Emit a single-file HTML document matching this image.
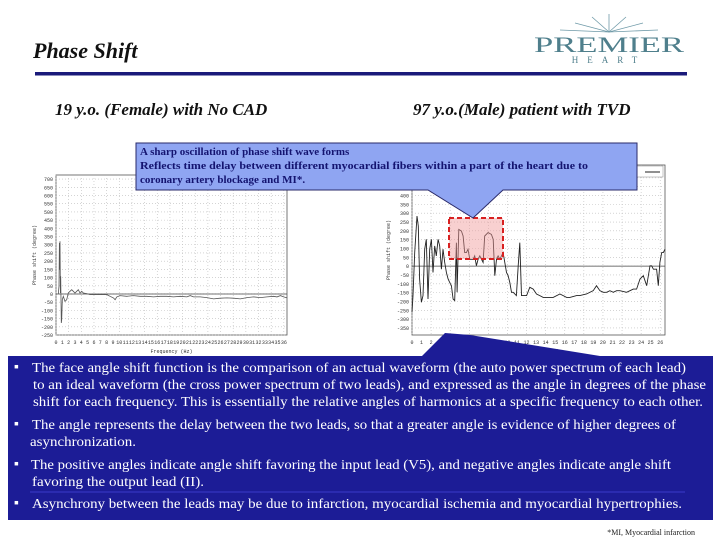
<!DOCTYPE html>
<html><head><meta charset="utf-8"><style>
html,body{margin:0;padding:0;background:#fff;}
svg{display:block;}
</style></head><body>
<svg id="s" width="720" height="540" viewBox="0 0 720 540" xmlns="http://www.w3.org/2000/svg" font-family="Liberation Serif, serif">
<rect width="720" height="540" fill="#fff"/>
<text x="33" y="58" font-size="22" font-style="italic" font-weight="bold" fill="#111">Phase Shift</text>
<rect x="35" y="72" width="652" height="3.5" fill="#1a1a7a"/>
<g>
  <g stroke="#6f9aa8" stroke-width="0.8">
    <line x1="609" y1="32" x2="560" y2="30"/><line x1="609" y1="32" x2="575" y2="23"/><line x1="609" y1="32" x2="592" y2="17"/>
    <line x1="609" y1="32" x2="609" y2="14"/><line x1="609" y1="32" x2="626" y2="17"/><line x1="609" y1="32" x2="643" y2="23"/><line x1="609" y1="32" x2="658" y2="30"/>
  </g>
  <text x="609" y="52" font-size="22" text-anchor="middle" fill="#4f7f8c" textLength="150" lengthAdjust="spacingAndGlyphs">PREMIER</text>
  <text x="609" y="63" font-size="9" text-anchor="middle" fill="#4f7f8c" letter-spacing="9">HEART</text>
</g>
<text x="55" y="115" font-size="17" font-style="italic" font-weight="bold" fill="#111">19 y.o. (Female) with No CAD</text>
<text x="413" y="115" font-size="17" font-style="italic" font-weight="bold" fill="#111">97 y.o.(Male) patient with TVD</text>

<g id="left"></g>
<g id="right"></g>

<rect x="449" y="218" width="54" height="41" fill="rgba(240,150,150,0.45)" stroke="#d82020" stroke-width="2" stroke-dasharray="5,3"/>
<polygon points="136,143 637,143 637,190 503,190 473,218 428,190 136,190" fill="#8fa5f2" stroke="#2a2a6a" stroke-width="1"/>
<text font-size="11" font-weight="bold" fill="#141470">
<tspan x="140" y="155">A sharp oscillation of phase shift wave forms</tspan>
<tspan x="140" y="169" textLength="448" lengthAdjust="spacingAndGlyphs">Reflects time delay between different myocardial fibers within a part of the heart due to</tspan>
<tspan x="140" y="183">coronary artery blockage and MI*.</tspan>
</text>

<polygon points="420,358 445,333 470,335 600,356" fill="#1c1c96"/>
<rect x="8" y="356" width="705" height="164" fill="#1c1c96"/>
<rect x="30" y="491" width="655" height="2" fill="#2b2bb0"/>
<g font-size="14" fill="#fff">
<text x="14" y="371">▪</text>
<text x="32" y="372" textLength="654" lengthAdjust="spacingAndGlyphs">The face angle shift function is the comparison of an actual waveform (the auto power spectrum of each lead)</text>
<text x="33" y="389" textLength="673" lengthAdjust="spacingAndGlyphs">to an ideal waveform (the cross power spectrum of two leads), and expressed as the angle in degrees of the phase</text>
<text x="33" y="406" textLength="670" lengthAdjust="spacingAndGlyphs">shift for each frequency. This is essentially the relative angles of harmonics at a specific frequency to each other.</text>
<text x="14" y="428">▪</text>
<text x="32" y="429" textLength="644" lengthAdjust="spacingAndGlyphs">The angle represents the delay between the two leads, so that a greater angle is evidence of higher degrees of</text>
<text x="30" y="446" textLength="106" lengthAdjust="spacingAndGlyphs">asynchronization.</text>
<text x="14" y="468">▪</text>
<text x="31" y="469" textLength="640" lengthAdjust="spacingAndGlyphs">The positive angles indicate angle shift favoring the input lead (V5), and negative angles indicate angle shift</text>
<text x="32" y="486" textLength="172" lengthAdjust="spacingAndGlyphs">favoring the output lead (II).</text>
<text x="14" y="507">▪</text>
<text x="32" y="508" textLength="650" lengthAdjust="spacingAndGlyphs">Asynchrony between the leads may be due to infarction, myocardial ischemia and myocardial hypertrophies.</text>
</g>
<text x="695" y="535" font-size="8" text-anchor="end" fill="#222">*MI, Myocardial infarction</text>
</svg>
<script>
// Left chart data (19 y.o. female)
const leftFreq = [0.37,0.47,0.53,0.58,0.63,0.69,0.74,0.79,0.84,0.9,1.0,1.16,1.42,1.69,1.95,2.22,2.48,2.74,3.0,3.27,3.53,3.8,4.06,4.33,4.85,5.38,6.44,7.49,8.02,8.55,9.07,9.34,9.6,10.13,11.18,12.24,13.29,14.35,15.4,16.46,17.51,18.57,19.62,20.68,21.2,21.73,22.79,23.84,24.9,25.95,27.0,28.06,29.12,30.17,31.23,32.28,33.34,34.39,34.92,35.45,35.98,36.5];
const leftPhase = [0,47,311,148,321,6,108,-35,-177,-157,-35,-14,-45,-35,6,16,26,16,6,16,26,6,16,6,2,-4,-4,-4,-4,-14,-24,-35,-18,-10,-14,-10,-14,-14,-18,-14,-14,-18,-14,-18,-10,-18,-18,-22,-30,-26,-24,-26,-30,-22,-18,-22,-18,-14,-18,-10,-18,-24];
const leftYTicks = [700,650,600,550,500,450,400,350,300,250,200,150,100,50,0,-50,-100,-150,-200,-250];
const leftXTicks = [0,1,2,3,4,5,6,7,8,9,10,11,12,13,14,15,16,17,18,19,20,21,22,23,24,25,26,27,28,29,30,31,32,33,34,35,36];
// Right chart data (97 y.o. male)
const rightFreq = [0,0.1,0.28,0.52,0.66,0.8,0.98,1.15,1.33,1.5,1.68,1.85,2.03,2.2,2.38,2.55,2.73,2.9,3.08,3.25,3.43,3.6,3.78,3.95,4.13,4.3,4.47,4.65,4.72,4.9,5.17,5.35,5.52,5.7,5.87,6.05,6.4,6.57,6.75,6.92,7.1,7.45,7.62,7.97,8.32,8.5,8.67,8.85,9.02,9.2,9.54,9.9,10.07,10.24,10.42,10.6,10.94,11.12,11.29,11.47,11.64,12,12.34,12.69,13.04,13.39,13.74,14.09,14.79,15.49,15.84,16.19,16.54,17.24,17.58,18.28,18.98,19.33,19.68,20.03,20.38,20.73,21.08,21.43,21.78,22.48,22.83,23.18,23.53,23.88,24.23,24.58,24.93,25.1,25.28,25.62,25.8,25.97,26.15,26.32,26.5];
const rightPhase = [-261,-167,77,284,227,-73,-205,-167,96,152,-186,96,152,-36,115,58,152,115,-17,96,21,-36,-73,-92,-111,-186,-195,133,-148,208,199,171,77,77,96,39,39,58,2,39,58,21,171,190,180,152,-54,39,58,39,77,-36,-54,-92,-148,-148,-167,2,133,-167,-167,-167,-120,-130,-158,-167,-177,-177,-177,-158,-167,-177,-177,-167,-167,-158,-139,-111,-139,-148,-148,-139,-148,-139,-139,-148,-139,-130,-130,-73,-54,-111,2,2,-17,-17,-111,21,77,77,96];
const rightYTicks = [550,500,450,400,350,300,250,200,150,100,50,0,-50,-100,-150,-200,-250,-300,-350];
const rightXTicks = [0,1,2,3,4,5,6,7,8,9,10,11,12,13,14,15,16,17,18,19,20,21,22,23,24,25,26];

const NS='http://www.w3.org/2000/svg';
function mk(tag, attrs, parent){const e=document.createElementNS(NS,tag);for(const k in attrs)e.setAttribute(k,attrs[k]);parent.appendChild(e);return e;}

function drawChart(g, cfg){
  const xs=v=>cfg.x0+(v-cfg.xmin)/(cfg.xmax-cfg.xmin)*(cfg.x1-cfg.x0);
  const ys=v=>cfg.y1-(v-cfg.ymin)/(cfg.ymax-cfg.ymin)*(cfg.y1-cfg.y0);
  const bg=mk('rect',{x:cfg.x0,y:cfg.y0,width:cfg.x1-cfg.x0,height:cfg.y1-cfg.y0,fill:'#fff',stroke:'#555','stroke-width':0.8},g);
  
  
  cfg.yTicks.forEach(t=>{
    const y=ys(t);
    const l=mk('line',{x1:cfg.x0,x2:cfg.x1,y1:y,y2:y,stroke:'#bbb','stroke-width':0.6,'stroke-dasharray':'1,2'},g);
    
    
    const tx=mk('text',{x:cfg.x0-3,y:y+2,'font-size':5,'text-anchor':'end',fill:'#333','font-family':'Liberation Mono, monospace'},g);
    tx.textContent=t;
    
    
  });
  cfg.xTicks.forEach(t=>{
    const x=xs(t);
    if(t%cfg.gridEvery===0){
      const l=mk('line',{x1:x,x2:x,y1:cfg.y0,y2:cfg.y1,stroke:'#bbb','stroke-width':0.6,'stroke-dasharray':'1,2'},g);
      
      
    }
    const tx=mk('text',{x:x,y:cfg.y1+9,'font-size':5,'text-anchor':'middle',fill:'#333','font-family':'Liberation Mono, monospace'},g);
    tx.textContent=t;
    
    
  });
  const z=mk('line',{x1:cfg.x0,x2:cfg.x1,y1:ys(0),y2:ys(0),stroke:'#444','stroke-width':0.7},g);
  
  
  let d='';
  cfg.fx.forEach((f,i)=>{d+=(i?'L':'M')+xs(f).toFixed(1)+','+ys(cfg.vals[i]).toFixed(1);});
  const p=mk('path',{d:d,fill:'none',stroke:cfg.color,'stroke-width':cfg.sw},g);
  
  
  const xl=mk('text',{x:(cfg.x0+cfg.x1)/2,y:cfg.y1+18,'font-size':5,'text-anchor':'middle',fill:'#333','font-family':'Liberation Mono, monospace'},g);
  xl.textContent='Frequency (Hz)';
  
  
  const yl=mk('text',{x:0,y:0,'font-size':5,'text-anchor':'middle',fill:'#333','font-family':'Liberation Mono, monospace',transform:'translate('+cfg.ylx+','+((cfg.y0+cfg.y1)/2)+') rotate(-90)'},g);
  yl.textContent='Phase shift (degree)';
  
  
}
drawChart(document.getElementById('left'),{x0:56,x1:287,y0:175,y1:335,xmin:0,xmax:36.5,ymin:-250,ymax:725,yTicks:leftYTicks,xTicks:leftXTicks,fx:leftFreq,vals:leftPhase,color:'#555',sw:0.8,gridEvery:2,ylx:36});
drawChart(document.getElementById('right'),{x0:412,x1:665,y0:165,y1:335,xmin:0,xmax:26.5,ymin:-390,ymax:573,yTicks:rightYTicks,xTicks:rightXTicks,fx:rightFreq,vals:rightPhase,color:'#222',sw:0.9,gridEvery:2,ylx:390});
const rg=document.getElementById('right');
const tt=mk('text',{x:537,y:158,'font-size':5,'text-anchor':'middle',fill:'#555','font-family':'Liberation Mono, monospace'},rg);
tt.textContent='Phase Shift';


const lg=mk('rect',{x:505,y:166,width:158,height:11,fill:'#fff',stroke:'#888','stroke-width':0.5},rg);


const lgt=mk('text',{x:508,y:175,'font-size':4.5,fill:'#555','font-family':'Liberation Mono, monospace'},rg);
lgt.textContent='degree of synchronization between V5 and II';


const lgl=mk('line',{x1:645,x2:660,y1:172,y2:172,stroke:'#222','stroke-width':1},rg);


</script>
</body></html>
